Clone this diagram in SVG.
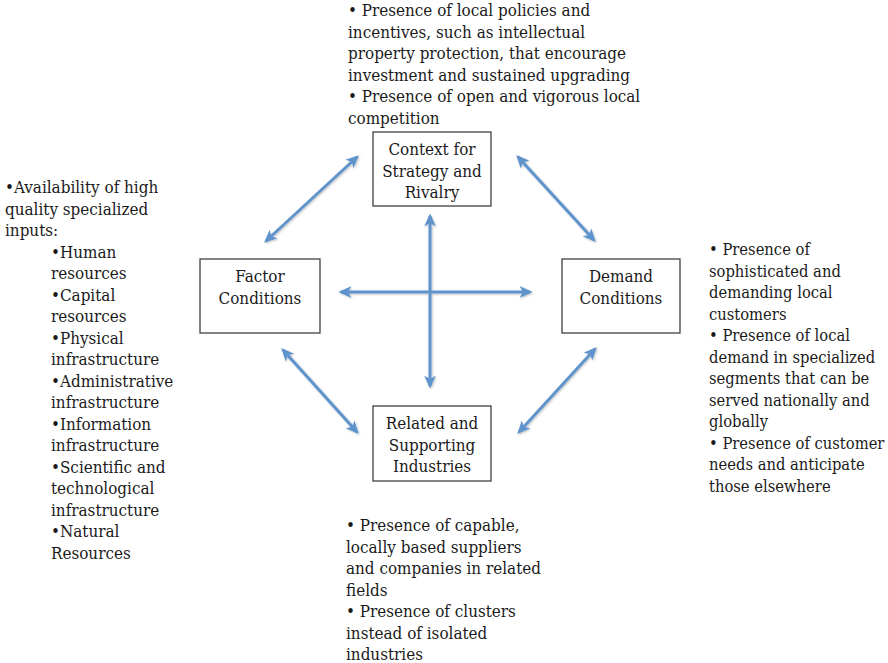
<svg xmlns="http://www.w3.org/2000/svg" width="888" height="663" viewBox="0 0 888 663">
  <defs>
    <style>
      .box { fill: #ffffff; stroke: #3f3f3f; stroke-width: 1.3; }
      .lbl { font-family: "DejaVu Serif Condensed", "DejaVu Serif", serif; font-stretch: condensed; font-size: 16.9px; fill: #1a1a1a; text-anchor: middle; }
      .note { font-family: "DejaVu Serif Condensed", "DejaVu Serif", serif; font-stretch: condensed; font-size: 16.9px; fill: #1a1a1a; }
      .note.tight { font-size: 16.4px; }
      .link { stroke: #5f93cb; stroke-width: 3; fill: none; marker-start: url(#head); marker-end: url(#head); }
    </style>
    <marker id="head" viewBox="0 0 10 10" refX="8" refY="5" markerWidth="4.3" markerHeight="4.3" orient="auto-start-reverse" markerUnits="strokeWidth">
      <path d="M0,0.5 L10,5 L0,9.5 L2.5,5 Z" fill="#5f93cb"/>
    </marker>
    <filter id="soft" x="-20%" y="-20%" width="140%" height="140%">
      <feGaussianBlur in="SourceAlpha" stdDeviation="1.2"/>
      <feOffset dx="0.8" dy="1.2" result="b"/>
      <feComponentTransfer><feFuncA type="linear" slope="0.25"/></feComponentTransfer>
      <feMerge><feMergeNode/><feMergeNode in="SourceGraphic"/></feMerge>
    </filter>
  </defs>

  <rect width="888" height="663" fill="#ffffff"/>

  <!-- connectors -->
  <g id="connectors" filter="url(#soft)">
    <line class="link" x1="266" y1="241" x2="357" y2="157"/>
    <line class="link" x1="518" y1="157" x2="594" y2="240"/>
    <line class="link" x1="283" y1="350" x2="357" y2="432"/>
    <line class="link" x1="519" y1="432" x2="595" y2="349"/>
    <line class="link" x1="341" y1="292" x2="530" y2="292"/>
    <line class="link" x1="430" y1="216" x2="430" y2="386"/>
  </g>

  <!-- nodes -->
  <g id="strategy">
    <rect class="box" x="373" y="132" width="118" height="74"/>
    <text class="lbl"><tspan x="432" y="155">Context for</tspan><tspan x="432" y="177">Strategy and</tspan><tspan x="432" y="198">Rivalry</tspan></text>
  </g>
  <g id="factor">
    <rect class="box" x="200" y="259" width="120" height="74"/>
    <text class="lbl"><tspan x="260" y="282">Factor</tspan><tspan x="260" y="304">Conditions</tspan></text>
  </g>
  <g id="demand">
    <rect class="box" x="562" y="259" width="118" height="74"/>
    <text class="lbl"><tspan x="621" y="282">Demand</tspan><tspan x="621" y="304">Conditions</tspan></text>
  </g>
  <g id="related">
    <rect class="box" x="373" y="406" width="118" height="75"/>
    <text class="lbl"><tspan x="432" y="429">Related and</tspan><tspan x="432" y="451">Supporting</tspan><tspan x="432" y="472">Industries</tspan></text>
  </g>

  <!-- notes -->
  <g id="note-strategy">
    <text class="note">
      <tspan x="348" y="16">• Presence of local policies and</tspan>
      <tspan x="348" y="37.5">incentives, such as intellectual</tspan>
      <tspan x="348" y="59">property protection, that encourage</tspan>
      <tspan x="348" y="80.5">investment and sustained upgrading</tspan>
      <tspan x="348" y="102">• Presence of open and vigorous local</tspan>
      <tspan x="348" y="123.5">competition</tspan>
    </text>
  </g>
  <g id="note-factor">
    <text class="note">
      <tspan x="5" y="193">•Availability of high</tspan>
      <tspan x="5" y="214.5">quality specialized</tspan>
      <tspan x="5" y="236">inputs:</tspan>
      <tspan x="51" y="257.5">•Human</tspan>
      <tspan x="51" y="279">resources</tspan>
      <tspan x="51" y="300.5">•Capital</tspan>
      <tspan x="51" y="322">resources</tspan>
      <tspan x="51" y="343.5">•Physical</tspan>
      <tspan x="51" y="365">infrastructure</tspan>
      <tspan x="51" y="386.5">•Administrative</tspan>
      <tspan x="51" y="408">infrastructure</tspan>
      <tspan x="51" y="429.5">•Information</tspan>
      <tspan x="51" y="451">infrastructure</tspan>
      <tspan x="51" y="472.5">•Scientific and</tspan>
      <tspan x="51" y="494">technological</tspan>
      <tspan x="51" y="515.5">infrastructure</tspan>
      <tspan x="51" y="537">•Natural</tspan>
      <tspan x="51" y="558.5">Resources</tspan>
    </text>
  </g>
  <g id="note-demand">
    <text class="note tight">
      <tspan x="709" y="255">• Presence of</tspan>
      <tspan x="709" y="276.5">sophisticated and</tspan>
      <tspan x="709" y="298">demanding local</tspan>
      <tspan x="709" y="319.5">customers</tspan>
      <tspan x="709" y="341">• Presence of local</tspan>
      <tspan x="709" y="362.5">demand in specialized</tspan>
      <tspan x="709" y="384">segments that can be</tspan>
      <tspan x="709" y="405.5">served nationally and</tspan>
      <tspan x="709" y="427">globally</tspan>
      <tspan x="709" y="448.5">• Presence of customer</tspan>
      <tspan x="709" y="470">needs and anticipate</tspan>
      <tspan x="709" y="491.5">those elsewhere</tspan>
    </text>
  </g>
  <g id="note-related">
    <text class="note">
      <tspan x="346" y="531">• Presence of capable,</tspan>
      <tspan x="346" y="552.5">locally based suppliers</tspan>
      <tspan x="346" y="574">and companies in related</tspan>
      <tspan x="346" y="595.5">fields</tspan>
      <tspan x="346" y="617">• Presence of clusters</tspan>
      <tspan x="346" y="638.5">instead of isolated</tspan>
      <tspan x="346" y="660">industries</tspan>
    </text>
  </g>
</svg>
